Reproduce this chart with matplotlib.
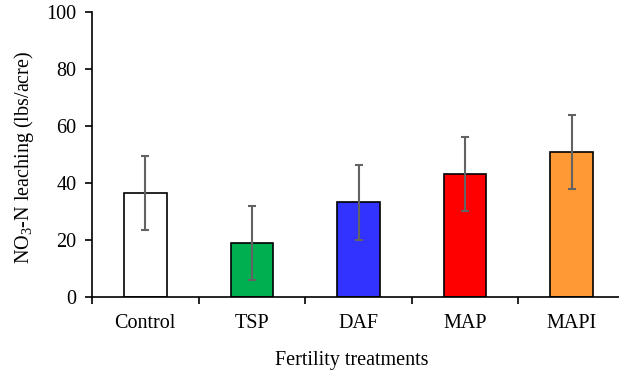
import matplotlib
matplotlib.use("Agg")
import matplotlib.pyplot as plt
import numpy as np

categories = ["Control", "TSP", "DAF", "MAP", "MAPI"]
values = [36.6, 18.9, 33.2, 43.3, 50.9]
errors = [13.0, 13.0, 13.1, 13.0, 13.0]
colors = ["#FFFFFF", "#00B050", "#3333FF", "#FF0000", "#FF9933"]
y_ticks = [0, 20, 40, 60, 80, 100]

plt.rcParams['font.family'] = ['Liberation Serif', 'DejaVu Serif']
plt.rcParams['mathtext.fontset'] = 'custom'
plt.rcParams['mathtext.rm'] = 'Liberation Serif'
plt.rcParams['mathtext.it'] = 'Liberation Serif:italic'

fs = 14.5
fig = plt.figure(figsize=(6.19, 3.73), dpi=100)
ax = fig.add_axes([92/619, 1-297/373, 533/619, 285/373])

x = np.arange(len(categories))
ax.bar(x, values, width=0.4, color=colors, edgecolor="black", linewidth=1.2, zorder=2)
ax.errorbar(x, values, yerr=errors, fmt="none", ecolor="#636363", elinewidth=1.5,
            capsize=2.6, capthick=1.5, zorder=3)

ax.set_xlim(-0.5, 4.5)
ax.set_ylim(0, 100)
ax.set_yticks(y_ticks)
ax.set_yticklabels([str(v) for v in y_ticks], fontsize=fs)
ax.set_xticks(x)
ax.set_xticklabels(categories, fontsize=fs)
ax.tick_params(axis="x", length=0, pad=12)
ax.set_xticks(np.arange(-0.5, 4.6, 1.0), minor=True)
ax.tick_params(axis="x", which="minor", length=5, width=1.2, direction="out")
ax.tick_params(axis="y", length=5, width=1.2, direction="out", pad=6)

for s in ["top", "right"]:
    ax.spines[s].set_visible(False)
for s in ["left", "bottom"]:
    ax.spines[s].set_linewidth(1.2)

ax.set_ylabel("NO$_3$-N leaching (lbs/acre)", fontsize=fs)
ax.yaxis.set_label_coords(-(92-24)/533, (297-157)/285)
ax.set_xlabel("Fertility treatments", fontsize=fs)
ax.xaxis.set_label_coords((352-92)/533, -(360-297)/285)
ax.xaxis.label.set_va("center")
ax.yaxis.label.set_va("center")

fig.savefig("out.png", dpi=100)
